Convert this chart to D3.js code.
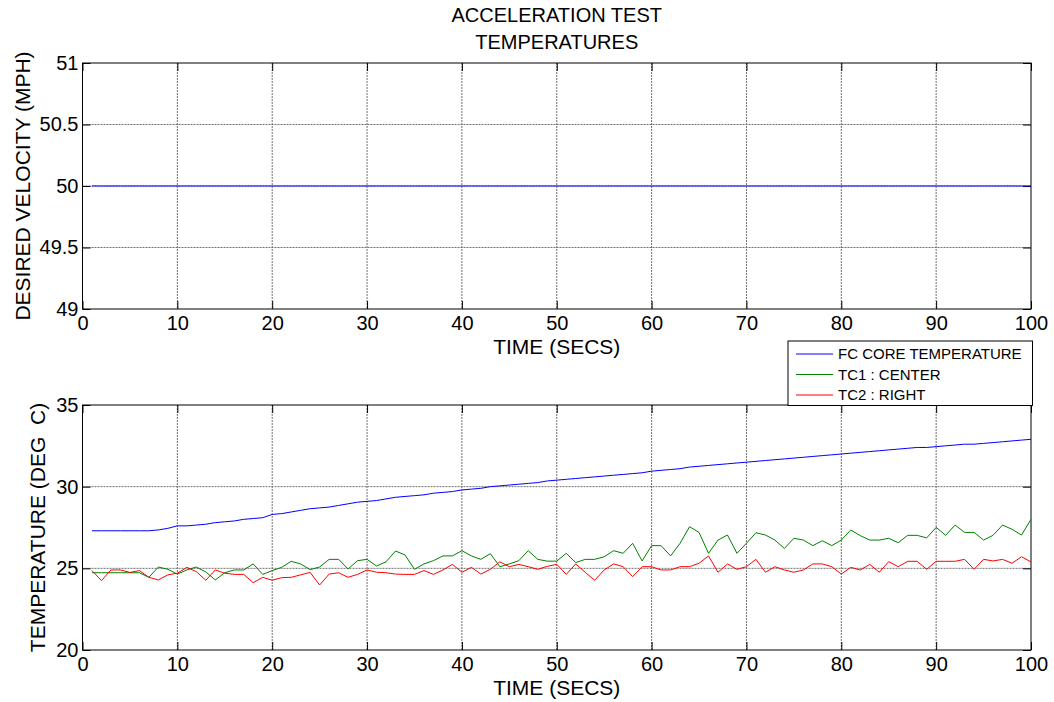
<!DOCTYPE html>
<html>
<head>
<meta charset="utf-8">
<script src="https://cdn.jsdelivr.net/npm/d3@7"></script>
<style>
  html, body { margin: 0; padding: 0; background: #fff; }
  svg { display: block; font-family: "Liberation Sans", Arial, sans-serif; }
  text { fill: #000; }
</style>
</head>
<body>
<svg id="chart" width="1054" height="702"></svg>
<script>
// ---- data ----
const timeSecs = [1,2,3,4,5,6,7,8,9,10,11,12,13,14,15,16,17,18,19,20,
  21,22,23,24,25,26,27,28,29,30,31,32,33,34,35,36,37,38,39,40,
  41,42,43,44,45,46,47,48,49,50,51,52,53,54,55,56,57,58,59,60,
  61,62,63,64,65,66,67,68,69,70,71,72,73,74,75,76,77,78,79,80,
  81,82,83,84,85,86,87,88,89,90,91,92,93,94,95,96,97,98,99,100];

const desiredVelocity = [50,50,50,50,50,50,50,50,50,50,50,50,50,50,50,50,50,50,50,50,
  50,50,50,50,50,50,50,50,50,50,50,50,50,50,50,50,50,50,50,50,
  50,50,50,50,50,50,50,50,50,50,50,50,50,50,50,50,50,50,50,50,
  50,50,50,50,50,50,50,50,50,50,50,50,50,50,50,50,50,50,50,50,
  50,50,50,50,50,50,50,50,50,50,50,50,50,50,50,50,50,50,50,50];

const fcCoreTemp = [27.3,27.3,27.3,27.3,27.3,27.3,27.3,27.35,27.45,27.6,
  27.6,27.65,27.7,27.8,27.85,27.9,28.0,28.05,28.1,28.3,
  28.35,28.45,28.55,28.65,28.7,28.75,28.85,28.95,29.05,29.1,
  29.15,29.25,29.35,29.4,29.45,29.5,29.6,29.65,29.7,29.8,
  29.85,29.9,30.0,30.05,30.1,30.15,30.2,30.25,30.35,30.4,
  30.45,30.5,30.55,30.6,30.65,30.7,30.75,30.8,30.85,30.95,
  31.0,31.05,31.1,31.2,31.25,31.3,31.35,31.4,31.45,31.5,
  31.55,31.6,31.65,31.7,31.75,31.8,31.85,31.9,31.95,32.0,
  32.05,32.1,32.15,32.2,32.25,32.3,32.35,32.4,32.4,32.45,
  32.5,32.55,32.6,32.6,32.65,32.7,32.75,32.8,32.85,32.9];

const tc1Center = [24.73,24.73,24.73,24.73,24.73,24.73,24.45,25.08,24.94,24.65,
  24.9,25.08,24.78,24.29,24.73,24.9,24.9,25.27,24.63,24.86,
  25.06,25.43,25.27,24.92,25.08,25.55,25.55,24.96,25.47,25.55,
  25.14,25.4,26.06,25.82,24.94,25.27,25.47,25.76,25.76,26.08,
  25.76,25.55,25.9,25.1,25.27,25.47,26.08,25.55,25.44,25.44,
  25.92,25.35,25.55,25.55,25.71,26.08,25.92,26.53,25.45,26.39,
  26.39,25.76,26.53,27.55,27.2,25.92,26.73,27.04,25.92,26.53,
  27.18,27.04,26.73,26.22,26.84,26.73,26.39,26.69,26.39,26.73,
  27.35,27.0,26.73,26.73,26.84,26.57,27.02,27.02,26.86,27.51,
  27.02,27.65,27.2,27.2,26.73,27.02,27.65,27.39,27.04,28.0];

const tc2Right = [24.86,24.25,24.9,24.9,24.75,24.86,24.45,24.29,24.6,24.7,
  25.06,24.8,24.27,24.9,24.7,24.63,24.63,24.12,24.45,24.27,
  24.43,24.45,24.6,24.75,23.98,24.65,24.73,24.45,24.63,24.9,
  24.76,24.73,24.65,24.63,24.63,24.86,24.63,24.9,25.24,24.76,
  25.06,24.65,24.94,25.4,25.1,25.24,25.1,24.94,25.12,25.25,
  24.63,25.27,24.76,24.27,24.9,25.27,25.1,24.49,25.1,25.1,
  24.9,24.9,25.1,25.1,25.31,25.76,24.76,25.27,24.94,25.1,
  25.55,24.76,25.1,24.9,24.76,24.9,25.27,25.27,25.1,24.65,
  25.06,24.9,25.24,24.76,25.41,25.1,25.43,25.43,24.94,25.43,
  25.43,25.43,25.55,24.94,25.55,25.45,25.55,25.31,25.71,25.39];

const xTicks = [0,10,20,30,40,50,60,70,80,90,100];
const velocityTicks = [49,49.5,50,50.5,51];
const tempTicks = [20,25,30,35];

const seriesNames = ["FC CORE TEMPERATURE", "TC1 : CENTER", "TC2 : RIGHT"];
const seriesColors = ["#0000ff", "#008000", "#ff0000"];

// ---- layout ----
const svg = d3.select("#chart");
const left = 82.5, right = 1031;
const topPanel = {y0: 63, y1: 309};
const botPanel = {y0: 405, y1: 650};
const tickLen = 8;
const tickFontPx = 20;
const labelFontPx = 21;

const x = d3.scaleLinear().domain([0, 100]).range([left, right]);
const yVel = d3.scaleLinear().domain([49, 51]).range([topPanel.y1, topPanel.y0]);
const yTemp = d3.scaleLinear().domain([20, 35]).range([botPanel.y1, botPanel.y0]);

svg.append("rect").attr("width", 1054).attr("height", 702).attr("fill", "#fff");

function drawPanel(yScale, yTicks, yFmt, yLabel, yLabelX, panel) {
  const g = svg.append("g");
  const h = panel.y1 - panel.y0;

  // dotted grid
  g.append("g").selectAll("line").data(xTicks.slice(1, -1)).join("line")
    .attr("x1", d => x(d)).attr("x2", d => x(d))
    .attr("y1", panel.y0).attr("y2", panel.y1)
    .attr("stroke", "#707070").attr("stroke-width", 1).attr("stroke-dasharray", "2,1");
  g.append("g").selectAll("line").data(yTicks.slice(1, -1)).join("line")
    .attr("x1", left).attr("x2", right)
    .attr("y1", d => yScale(d)).attr("y2", d => yScale(d))
    .attr("stroke", "#707070").attr("stroke-width", 1).attr("stroke-dasharray", "2,1");

  // axes with inward ticks on all four sides
  const ax = g.append("g").attr("transform", `translate(0,${panel.y1})`)
    .call(d3.axisBottom(x).tickValues(xTicks).tickSizeInner(-tickLen).tickSizeOuter(0).tickPadding(7));
  const axTop = g.append("g").attr("transform", `translate(0,${panel.y0})`)
    .call(d3.axisTop(x).tickValues(xTicks).tickSizeInner(-tickLen).tickSizeOuter(0).tickFormat(""));
  const ay = g.append("g").attr("transform", `translate(${left},0)`)
    .call(d3.axisLeft(yScale).tickValues(yTicks).tickFormat(yFmt).tickSizeInner(-tickLen).tickSizeOuter(0).tickPadding(4));
  const ayR = g.append("g").attr("transform", `translate(${right},0)`)
    .call(d3.axisRight(yScale).tickValues(yTicks).tickSizeInner(-tickLen).tickSizeOuter(0).tickFormat(""));
  [ax, axTop, ay, ayR].forEach(a => {
    a.select(".domain").remove();
    a.selectAll("line").attr("stroke", "#000");
    a.selectAll("text").attr("font-size", tickFontPx).attr("font-family", "Liberation Sans, Arial, sans-serif").attr("fill", "#000");
  });

  // axes box
  g.append("rect").attr("x", left).attr("y", panel.y0)
    .attr("width", right - left).attr("height", h)
    .attr("fill", "none").attr("stroke", "#000").attr("stroke-width", 1);

  // axis titles
  g.append("text").attr("x", (left + right) / 2).attr("y", panel.y1 + 45)
    .attr("text-anchor", "middle").attr("font-size", labelFontPx).text("TIME (SECS)");
  g.append("text")
    .attr("transform", `translate(${yLabelX},${(panel.y0 + panel.y1) / 2}) rotate(-90)`)
    .attr("dy", "0.35em").attr("text-anchor", "middle").attr("font-size", labelFontPx)
    .style("white-space", "pre").text(yLabel);
  return g;
}

drawPanel(yVel, velocityTicks, d => String(d), "DESIRED VELOCITY (MPH)", 22.5, topPanel);
drawPanel(yTemp, tempTicks, d => String(d), "TEMPERATURE (DEG  C)", 38, botPanel);

// figure title
svg.append("text").attr("x", (left + right) / 2).attr("y", 22)
  .attr("text-anchor", "middle").attr("font-size", 20).text("ACCELERATION TEST");
svg.append("text").attr("x", (left + right) / 2).attr("y", 49)
  .attr("text-anchor", "middle").attr("font-size", 20).text("TEMPERATURES");

// data lines
const lineOf = yScale => d3.line().x(d => x(d[0])).y(d => yScale(d[1]));
svg.append("path")
  .datum(timeSecs.map((t, i) => [t, desiredVelocity[i]]))
  .attr("d", lineOf(yVel)).attr("fill", "none").attr("stroke", "#0000ff").attr("stroke-width", 1);

[fcCoreTemp, tc1Center, tc2Right].forEach((vals, k) => {
  svg.append("path")
    .datum(timeSecs.map((t, i) => [t, vals[i]]))
    .attr("d", lineOf(yTemp)).attr("fill", "none")
    .attr("stroke", seriesColors[k]).attr("stroke-width", 1).attr("stroke-linejoin", "round");
});

// legend
const leg = svg.append("g");
leg.append("rect").attr("x", 788).attr("y", 341).attr("width", 244.5).attr("height", 64.5)
  .attr("fill", "#fff").attr("stroke", "#000").attr("stroke-width", 1);
seriesNames.forEach((name, i) => {
  const cy = 354 + i * 20.5;
  leg.append("line").attr("x1", 796).attr("x2", 833).attr("y1", cy).attr("y2", cy)
    .attr("stroke", seriesColors[i]).attr("stroke-width", 1);
  leg.append("text").attr("x", 838).attr("y", cy).attr("dy", "0.36em")
    .attr("font-size", 15).text(name);
});
</script>
</body>
</html>
